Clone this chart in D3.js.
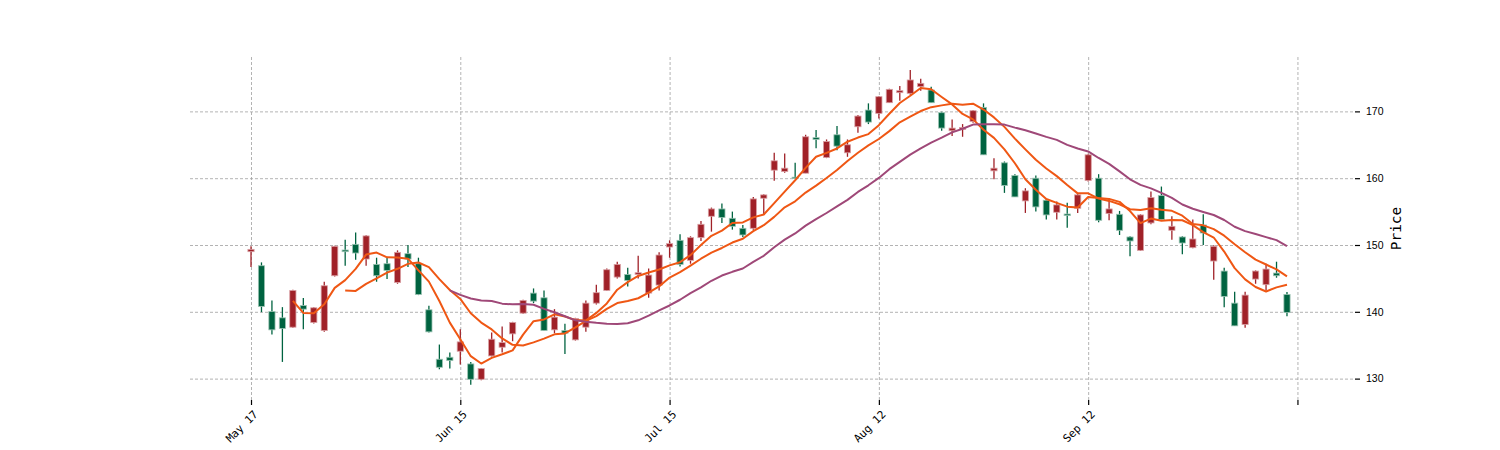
<!DOCTYPE html>
<html><head><meta charset="utf-8">
<script src="https://cdn.jsdelivr.net/npm/d3@7/dist/d3.min.js"></script>
<style>body{margin:0;background:#fff}svg{display:block}</style></head>
<body><svg id="c" width="1500" height="450"></svg>
<script>
// ---- data ----
const opens  = [149.0,146.9,140.05,139.1,137.7,140.95,138.4,137.2,145.4,149.25,150.1,147.9,147.1,147.2,144.4,148.7,147.2,140.3,132.9,133.2,
                134.1,132.2,129.9,133.4,134.7,136.7,139.8,142.8,142.1,137.3,137.2,135.8,137.7,141.3,143.2,145.2,145.6,145.6,142.8,144.0,
                149.7,150.7,147.7,151.1,154.3,155.4,154.0,152.5,152.5,157.0,161.2,161.0,160.15,160.75,166.07,163.1,166.5,163.8,167.7,170.2,
                169.7,171.3,172.8,172.7,173.7,173.2,169.8,167.1,167.3,168.5,170.6,161.1,162.3,160.4,156.6,160.0,156.7,154.9,154.64,155.5,
                159.65,160.0,154.7,154.6,151.2,149.2,153.3,157.4,152.2,151.2,149.6,153.0,147.6,146.1,141.3,138.1,144.9,144.06,145.8,142.6];
const highs  = [149.8,147.4,141.7,140.7,143.3,142.06,140.7,144.5,149.9,150.8,151.86,151.46,148.1,148.1,149.2,150.0,148.1,140.9,135.1,133.9,
                137.4,132.5,131.6,136.9,137.8,138.5,141.8,143.5,143.2,140.4,138.2,139.1,141.7,144.06,146.5,147.5,146.6,148.4,146.5,148.9,
                150.7,151.6,151.3,153.6,155.6,156.2,155.0,153.0,157.2,157.6,163.8,163.7,162.3,166.5,167.2,165.8,167.8,165.8,169.45,171.2,
                172.3,173.4,173.8,176.2,174.9,173.7,169.95,168.8,168.1,170.2,171.2,163.0,162.5,160.6,158.5,160.4,156.9,156.5,156.34,157.7,
                163.66,160.6,157.0,155.1,151.3,154.6,158.0,158.75,154.3,151.3,153.8,154.6,149.97,146.6,143.0,143.0,146.2,147.2,147.5,142.96];
const lows   = [146.7,139.95,136.6,132.5,137.6,137.4,138.25,137.0,145.3,146.9,147.8,146.9,144.5,144.9,144.2,146.7,142.5,136.9,131.4,131.5,
                132.1,129.1,129.75,133.3,133.9,135.6,139.7,141.3,137.2,136.8,133.7,135.7,137.0,141.1,143.1,145.0,143.8,145.0,142.1,143.2,
                148.1,146.8,147.2,150.6,152.0,153.3,152.3,151.2,152.3,154.5,159.6,160.8,159.9,160.75,164.5,163.0,164.2,163.2,166.8,168.1,
                168.95,171.3,171.6,172.5,173.1,171.3,167.1,166.3,166.2,168.3,163.5,159.85,157.8,157.2,154.8,155.0,153.8,153.8,152.6,154.8,
                159.5,153.4,153.7,151.5,148.3,149.1,153.1,153.7,150.8,148.6,149.5,150.0,144.8,140.7,137.9,137.6,144.2,143.2,145.1,139.35];
const closes = [149.35,140.8,137.3,137.5,143.2,140.4,140.6,143.9,149.8,149.0,148.8,151.36,145.4,146.2,148.9,147.9,142.6,137.0,131.7,132.7,
                135.5,129.9,131.5,135.9,135.4,138.4,141.7,141.6,137.2,139.2,136.8,139.0,141.3,142.86,146.3,147.1,144.7,145.85,145.5,148.5,
                150.2,147.1,151.1,153.1,155.4,154.1,152.8,151.5,156.9,157.5,162.6,161.5,159.95,166.2,165.8,165.5,164.8,165.0,169.3,168.4,
                172.2,173.3,173.1,174.7,174.2,171.3,167.5,167.5,167.6,170.1,163.5,161.5,158.9,157.2,158.1,155.7,154.5,156.0,154.4,157.5,
                163.5,153.7,155.4,152.2,150.6,154.5,157.1,153.8,152.8,150.3,150.9,151.8,149.8,142.3,137.9,142.5,146.1,146.4,145.4,139.9];
const xTickIndex  = [0, 20, 40, 60, 80, 100];
const xTickLabels = ["May 17", "Jun 15", "Jul 15", "Aug 12", "Sep 12", ""];
const yTickValues = [130, 140, 150, 160, 170];
const mavPeriods  = [5, 10, 20];
const mavColors   = ["#ef5714", "#ef5714", "#9f4878"];
const upColor = "#a02128", downColor = "#006340";

// ---- layout ----
const L = 190, R = 1355, T = 57, B = 400;
const svg = d3.select("#c");
svg.append("rect").attr("width",1500).attr("height",450).attr("fill","#fff");
const x = d3.scaleLinear().domain([-5.83, 105.5]).range([L, R]);
const y = d3.scaleLinear().domain([126.8, 178.14]).range([B, T]);

// grid
const gridStyle = g => { g.select(".domain").remove(); g.selectAll("text").remove();
  g.selectAll("line").attr("stroke","#a0a0a0").attr("stroke-width",0.8).attr("stroke-dasharray","3,2"); };
svg.append("g").attr("transform",`translate(${L},0)`)
  .call(d3.axisRight(y).tickValues(yTickValues).tickSize(R-L)).call(gridStyle);
svg.append("g").attr("transform",`translate(0,${T})`)
  .call(d3.axisBottom(x).tickValues(xTickIndex).tickSize(B-T)).call(gridStyle);

// candles
const data = opens.map((o,i)=>({i,o,h:highs[i],l:lows[i],c:closes[i]}));
const bw = 6.2;
const cg = svg.append("g");
cg.selectAll("line.w").data(data).join("line").attr("class","w")
  .attr("x1",d=>x(d.i)).attr("x2",d=>x(d.i))
  .attr("y1",d=>y(d.h)).attr("y2",d=>y(d.l))
  .attr("stroke",d=>d.c>=d.o?upColor:downColor).attr("stroke-width",1.3);
cg.selectAll("rect.b").data(data).join("rect").attr("class","b")
  .attr("x",d=>x(d.i)-bw/2).attr("width",bw)
  .attr("y",d=>y(Math.max(d.o,d.c)))
  .attr("height",d=>Math.max(1.2, Math.abs(y(d.o)-y(d.c))))
  .attr("fill",d=>d.c>=d.o?upColor:downColor)
  .attr("stroke",d=>d.c>=d.o?"#d9a0a4":"#9cc4b3").attr("stroke-width",0.8);

// moving averages
mavPeriods.forEach((p,k)=>{
  const pts=[];
  for(let i=p-1;i<closes.length;i++){ pts.push([i, d3.mean(closes.slice(i-p+1,i+1))]); }
  svg.append("path").datum(pts).attr("fill","none").attr("stroke",mavColors[k])
    .attr("stroke-width",2).attr("stroke-linejoin","round")
    .attr("d",d3.line().x(d=>x(d[0])).y(d=>y(d[1])));
});

// axes
const yAx = svg.append("g").attr("transform",`translate(${R},0)`)
  .call(d3.axisRight(y).tickValues(yTickValues).tickSize(5).tickPadding(6).tickFormat(d3.format("d")));
yAx.select(".domain").remove();
yAx.selectAll("line").attr("stroke","#000").attr("stroke-width",1.2);
yAx.selectAll("text").attr("font-family","Liberation Sans, Arial, sans-serif").attr("font-size",10.5).attr("fill","#000");

const xAx = svg.append("g").attr("transform",`translate(0,${B})`)
  .call(d3.axisBottom(x).tickValues(xTickIndex).tickSize(5).tickFormat((d,i)=>xTickLabels[i]));
xAx.select(".domain").remove();
xAx.selectAll("line").attr("stroke","#000").attr("stroke-width",1.2);
xAx.selectAll("text").attr("font-family","DejaVu Sans Mono, monospace").attr("font-size",11).attr("fill","#000")
  .attr("text-anchor","end").attr("x",0).attr("y",0).attr("dy",0)
  .attr("transform","translate(7,15) rotate(-45)");

svg.append("text").attr("transform",`translate(1401,${(T+B)/2}) rotate(-90)`)
  .attr("text-anchor","middle").attr("font-family","DejaVu Sans Mono, monospace").attr("font-size",14.5)
  .attr("fill","#000").text("Price");
</script></body></html>
